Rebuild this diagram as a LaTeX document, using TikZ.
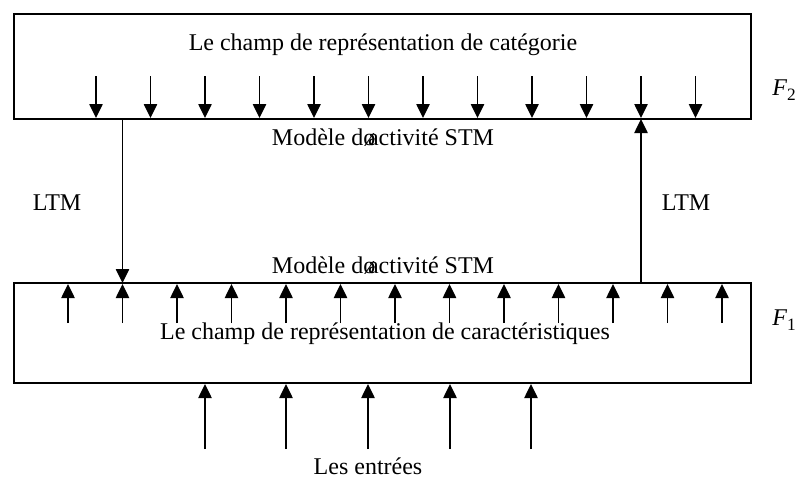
\documentclass[tikz,border=0pt]{standalone}
\usepackage{fontspec}
\setmainfont{Liberation Serif}
\usetikzlibrary{arrows.meta}
\newcommand{\fieldname}[2]{{\itshape #1}\raisebox{-0.45ex}{\fontsize{13}{13}\selectfont #2}}
\begin{document}
\begin{tikzpicture}[x=0.75pt,y=-0.75pt,
  frame/.style={draw,line width=1.1pt},
  link/.style={line width=1.1pt,-{Triangle[length=10.5pt,width=10pt]}},
  label/.style={font=\fontsize{18}{21}\selectfont,inner sep=0pt}]
\useasboundingbox (0,0) rectangle (800,480);
% the two fields
\draw[frame] (14,14) rectangle (751,119);
\draw[frame] (14,283) rectangle (751,383);
% texts
\node[label] (cat) at (383,45) {Le champ de représentation de catégorie};
\node[label] (car) at (385,334) {Le champ de représentation de caractéristiques};
\node[label] (stm2) at (383,138) {Modèle dø\kern-0.3em activité STM};
\node[label] (stm1) at (383,266) {Modèle dø\kern-0.3em activité STM};
\node[label] (ltmA) at (57,203) {LTM};
\node[label] (ltmB) at (686,203) {LTM};
\node[label] (F2) at (784,90) {\fieldname{F}{2}};
\node[label] (F1) at (784,320) {\fieldname{F}{1}};
\node[label] (in) at (368,466) {Les entrées};
% arrows inside the category field
\foreach \x [count=\i] in {96,150.5,205,259.5,314,368.5,423,477.5,532,586.5,641,695.5}{
  \coordinate (a\i) at (\x,76);
  \coordinate (b\i) at (\x,118);
  \draw[link] (a\i) -- (b\i);
}
% arrows inside the feature field
\foreach \x [count=\i] in {68,122.5,177,231.5,286,340.5,395,449.5,504,558.5,613,667.5,722}{
  \coordinate (c\i) at (\x,323);
  \coordinate (d\i) at (\x,284);
  \draw[link] (c\i) -- (d\i);
}
% long term memory links
\coordinate (l1s) at (122.5,119);
\coordinate (l1e) at (122.5,283);
\coordinate (l2s) at (641,283);
\coordinate (l2e) at (641,119);
\draw[link] (l1s) -- (l1e);
\draw[link] (l2s) -- (l2e);
% inputs
\foreach \x [count=\i] in {205,286,368,450,531}{
  \coordinate (e\i) at (\x,449);
  \coordinate (g\i) at (\x,384);
  \draw[link] (e\i) -- (g\i);
}
\end{tikzpicture}
\end{document}
